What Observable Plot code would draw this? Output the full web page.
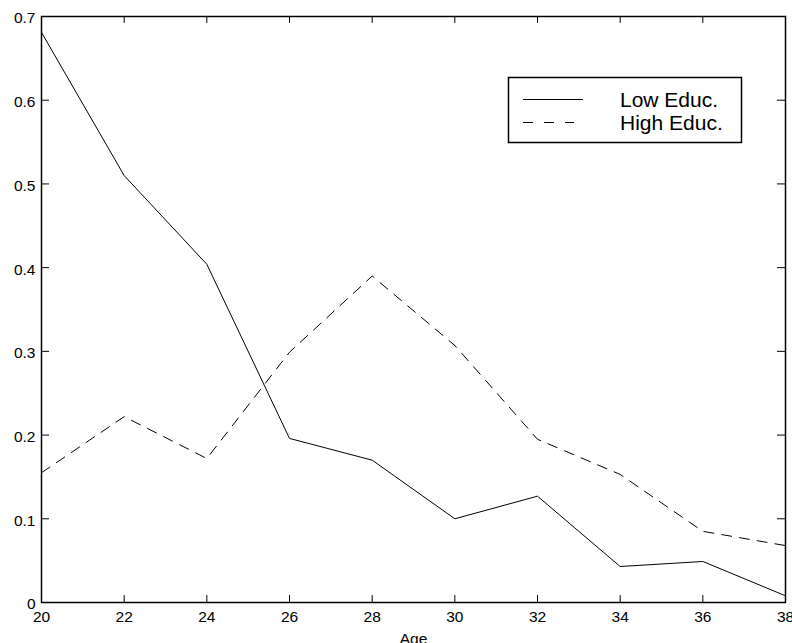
<!DOCTYPE html>
<html><head><meta charset="utf-8">
<script src="https://cdn.jsdelivr.net/npm/d3@7"></script>
<script src="https://cdn.jsdelivr.net/npm/@observablehq/plot@0.6"></script>
<style>
body{margin:0;background:#fff;}
#wrap{position:relative;width:792px;height:643px;font-family:"Liberation Sans",Arial,Helvetica,sans-serif;}
#wrap svg{display:block;}
</style></head><body><div id="wrap"></div>
<script>
const ages = [20, 22, 24, 26, 28, 30, 32, 34, 36, 38];
const lowEduc = [0.681, 0.510, 0.404, 0.196, 0.170, 0.100, 0.127, 0.043, 0.049, 0.008];
const highEduc = [0.155, 0.222, 0.172, 0.299, 0.390, 0.307, 0.195, 0.153, 0.085, 0.068];
const seriesNames = ["Low Educ.", "High Educ."];
const xTicks = [20, 22, 24, 26, 28, 30, 32, 34, 36, 38];
const yTicks = [0, 0.1, 0.2, 0.3, 0.4, 0.5, 0.6, 0.7];
const yTickLabels = ["0", "0.1", "0.2", "0.3", "0.4", "0.5", "0.6", "0.7"];
const xLabel = "Age";

const W = 792, H = 643, mL = 41, mR = 7, mT = 16, mB = 41;
const innerW = W - mL - mR, innerH = H - mT - mB;
const FONT = '"Liberation Sans", Arial, Helvetica, sans-serif';

const lowRows = ages.map((a, i) => ({age: a, value: lowEduc[i]}));
const highRows = ages.map((a, i) => ({age: a, value: highEduc[i]}));
const innerX = xTicks.slice(1, -1);
const innerY = yTicks.slice(1, -1);

const chart = Plot.plot({
  width: W, height: H,
  marginLeft: mL, marginRight: mR, marginTop: mT, marginBottom: mB,
  style: {fontFamily: FONT, fontSize: "15.5px", color: "black", background: "white", overflow: "visible"},
  x: {domain: [20, 38]},
  y: {domain: [0, 0.7]},
  marks: [
    Plot.line(lowRows, {x: "age", y: "value", stroke: "black", strokeWidth: 1}),
    Plot.line(highRows, {x: "age", y: "value", stroke: "black", strokeWidth: 1, strokeDasharray: "10,8"}),
    Plot.tickY(innerY, {y: d => d, insetRight: innerW - 8, stroke: "black", strokeWidth: 1}),
    Plot.tickY(innerY, {y: d => d, insetLeft: innerW - 8, stroke: "black", strokeWidth: 1}),
    Plot.tickX(innerX, {x: d => d, insetTop: innerH - 7, stroke: "black", strokeWidth: 1}),
    Plot.tickX(innerX, {x: d => d, insetBottom: innerH - 7, stroke: "black", strokeWidth: 1}),
    Plot.frame({stroke: "black", strokeWidth: 1.5}),
    Plot.axisX({ticks: xTicks, tickSize: 0, tickPadding: 8, tickFormat: d => String(d),
      label: xLabel, labelAnchor: "center", labelOffset: 41, labelArrow: "none"}),
    Plot.axisY({ticks: yTicks, tickSize: 0, tickPadding: 6, dy: 2,
      tickFormat: d => yTickLabels[yTicks.indexOf(d)], label: null})
  ]
});
document.getElementById("wrap").appendChild(chart);

// legend overlay
const leg = d3.select("#wrap").append("svg")
  .attr("width", W).attr("height", H)
  .style("position", "absolute").style("left", "0px").style("top", "0px")
  .style("pointer-events", "none");
leg.append("rect").attr("x", 508.5).attr("y", 77.5).attr("width", 233).attr("height", 65)
  .attr("fill", "white").attr("stroke", "black").attr("stroke-width", 1.5);
const dashes = [null, "10,11"];
seriesNames.forEach((name, i) => {
  const y = 99 + i * 23;
  leg.append("line").attr("x1", 523).attr("x2", i ? 574 : 583).attr("y1", y + 0.5).attr("y2", y + 0.5)
    .attr("stroke", "black").attr("stroke-width", 1).attr("stroke-dasharray", dashes[i]);
  leg.append("text").attr("x", 620).attr("y", y + 8).text(name)
    .attr("font-family", FONT).attr("font-size", "21px").attr("fill", "black");
});
</script></body></html>
